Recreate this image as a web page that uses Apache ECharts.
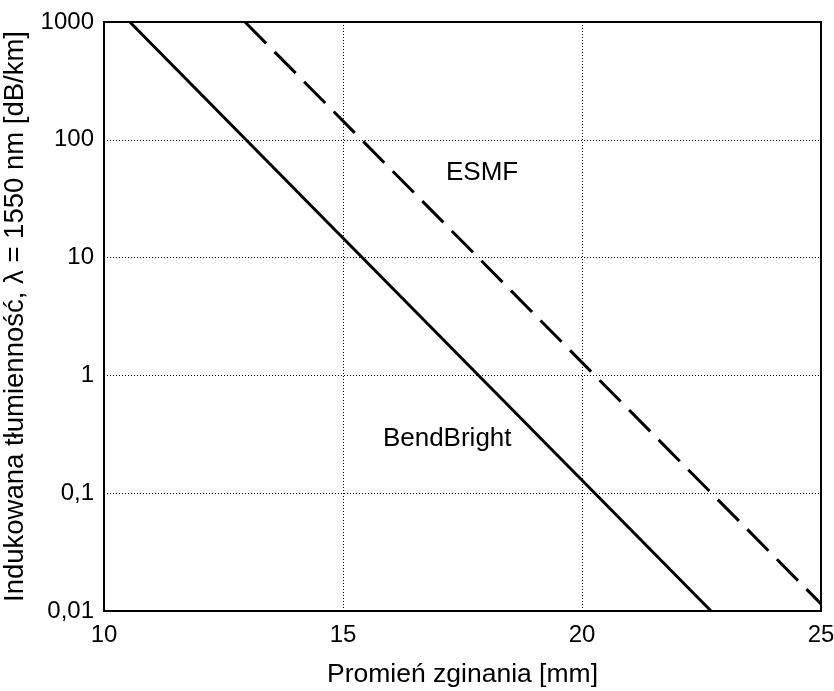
<!DOCTYPE html>
<html>
<head>
<meta charset="utf-8">
<script src="https://cdn.jsdelivr.net/npm/echarts@6/dist/echarts.min.js"></script>
<style>
  html, body { margin: 0; padding: 0; background: #fff; }
  #chart { width: 834px; height: 691px; }
</style>
</head>
<body>
<div id="chart"></div>
<script>
// promień zginania [mm] -> tłumienność [dB/km]
const bendBrightX = [10.54, 22.70];
const bendBrightY = [1000, 0.01];
const esmfX = [12.95, 25];
const esmfY = [1000, 0.0115];

// podpisy krzywych
const curveNames = ['ESMF', 'BendBright'];
const curveLabelX = [17.91, 17.18];
const curveLabelY = [52, 0.29];

const xTicks = [10, 15, 20, 25];
const yTickLabels = ['0,01', '0,1', '1', '10', '100', '1000'];

const font = '"Liberation Sans", Arial, Helvetica, sans-serif';
const chart = echarts.init(document.getElementById('chart'));

const option = {
  animation: false,
  grid: {
    left: 104,
    right: 13,
    top: 22,
    bottom: 80,
    outerBoundsMode: 'none',
    show: true,
    borderColor: '#000',
    borderWidth: 2,
    backgroundColor: 'transparent'
  },
  xAxis: {
    type: 'value',
    min: xTicks[0],
    max: xTicks[xTicks.length - 1],
    interval: 5,
    name: 'Promień zginania [mm]',
    nameLocation: 'middle',
    nameGap: 50,
    nameTextStyle: { color: '#000', fontSize: 26.5, fontFamily: font },
    axisLine: { show: true, lineStyle: { color: '#000', width: 2 } },
    axisTick: { show: false },
    axisLabel: { color: '#000', fontSize: 24, fontFamily: font, margin: 12 },
    splitLine: { show: true, lineStyle: { color: '#000', width: 1, type: [1, 2] } }
  },
  yAxis: {
    type: 'log',
    logBase: 10,
    min: 0.01,
    max: 1000,
    name: 'Indukowana tłumienność, λ = 1550 nm [dB/km]',
    nameLocation: 'middle',
    nameGap: 68,
    nameTextStyle: { color: '#000', fontSize: 27.5, fontFamily: font },
    axisLine: { show: true, lineStyle: { color: '#000', width: 2 } },
    axisTick: { show: false },
    axisLabel: {
      color: '#000', fontSize: 24, fontFamily: font, margin: 10,
      formatter: (v, i) => yTickLabels[i]
    },
    splitLine: { show: true, lineStyle: { color: '#000', width: 1, type: [1, 2] } }
  },
  series: [
    {
      name: 'BendBright',
      type: 'line',
      symbol: 'none',
      lineStyle: { color: '#000', width: 3 },
      data: bendBrightX.map((x, i) => [x, bendBrightY[i]])
    },
    {
      name: 'ESMF',
      type: 'line',
      symbol: 'none',
      lineStyle: { color: '#000', width: 3, type: [30, 12] },
      data: esmfX.map((x, i) => [x, esmfY[i]])
    },
    {
      type: 'scatter',
      symbolSize: 0,
      silent: true,
      itemStyle: { opacity: 1 },
      label: {
        show: true,
        position: 'inside',
        color: '#000',
        fontSize: 26,
        fontFamily: font,
        formatter: p => p.name
      },
      data: curveNames.map((n, i) => ({ name: n, value: [curveLabelX[i], curveLabelY[i]] }))
    }
  ]
};
chart.setOption(option);
</script>
</body>
</html>
